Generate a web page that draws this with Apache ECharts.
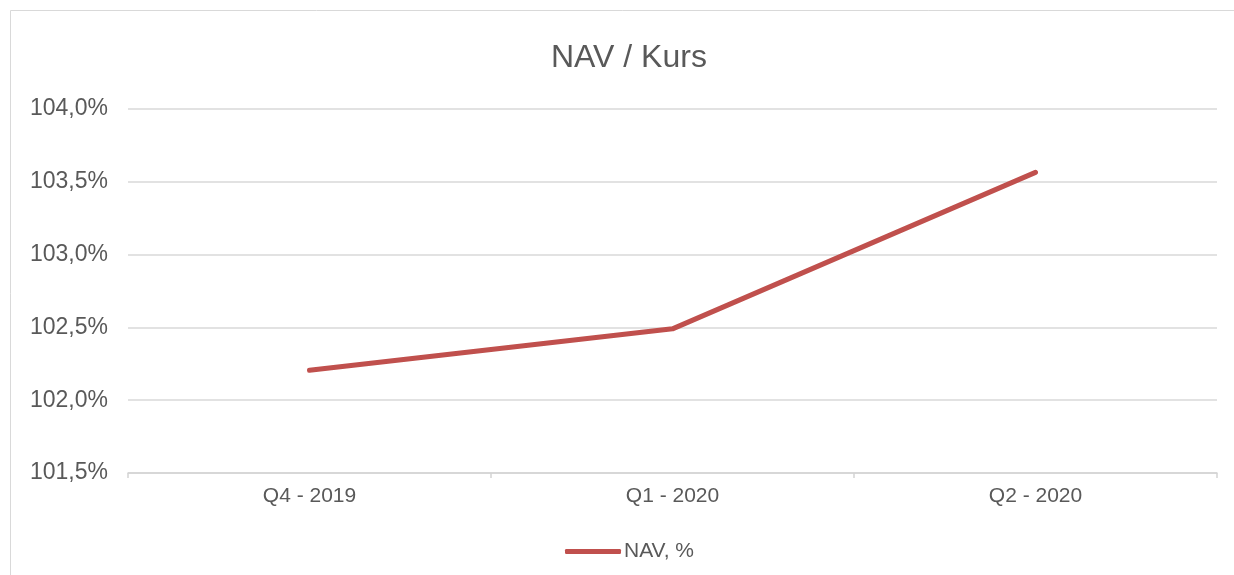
<!DOCTYPE html>
<html>
<head>
<meta charset="utf-8">
<script src="https://cdn.jsdelivr.net/npm/echarts@6/dist/echarts.min.js"></script>
<style>html,body{margin:0;padding:0;background:#fff;}#c{width:1234px;height:575px;}</style>
</head>
<body>
<div id="c"></div>
<script>
var categories = ['Q4 - 2019', 'Q1 - 2020', 'Q2 - 2020'];
var navValues = [102.205, 102.49, 103.565];
var seriesName = 'NAV, %';
var titleText = 'NAV / Kurs';

var chart = echarts.init(document.getElementById('c'), null, {renderer: 'canvas'});
chart.setOption({
  animation: false,
  backgroundColor: '#fff',
  textStyle: {fontFamily: 'Liberation Sans, Arial, sans-serif'},
  graphic: [{
    type: 'rect', silent: true, z: -1,
    shape: {x: 10.5, y: 10.5, width: 1400, height: 800},
    style: {fill: null, stroke: '#d9d9d9', lineWidth: 1}
  }],
  title: {
    text: titleText, left: 546, top: 37,
    textStyle: {fontSize: 32, fontWeight: 'normal', color: '#595959', fontFamily: 'Liberation Sans, Arial, sans-serif'}
  },
  legend: {
    data: [{name: seriesName, icon: 'roundRect'}],
    left: 560, top: 536,
    itemWidth: 56, itemHeight: 5, itemGap: 10,
    textStyle: {fontSize: 21, color: '#595959', padding: [0, 0, 0, -2]},
    selectedMode: false
  },
  grid: {left: 128, right: 17, top: 109, bottom: 102, containLabel: false},
  xAxis: {
    type: 'category', data: categories, boundaryGap: true,
    axisLine: {lineStyle: {color: '#d4d4d4', width: 1.5}},
    axisTick: {show: true, length: 5, lineStyle: {color: '#d4d4d4', width: 1.5}},
    axisLabel: {fontSize: 21, color: '#595959', margin: 13}
  },
  yAxis: {
    type: 'value', min: 101.5, max: 104, interval: 0.5,
    axisLine: {show: false}, axisTick: {show: false},
    splitLine: {lineStyle: {color: '#d9d9d9', width: 1.5}},
    axisLabel: {fontSize: 23, color: '#595959', margin: 20,
      formatter: function (v) { return v.toFixed(1).replace('.', ',') + '%'; }}
  },
  series: [{
    name: seriesName, type: 'line', data: navValues,
    symbol: 'none', smooth: false,
    lineStyle: {color: '#C0504D', width: 5, cap: 'round', join: 'round'},
    itemStyle: {color: '#C0504D'}
  }]
});
</script>
</body>
</html>
